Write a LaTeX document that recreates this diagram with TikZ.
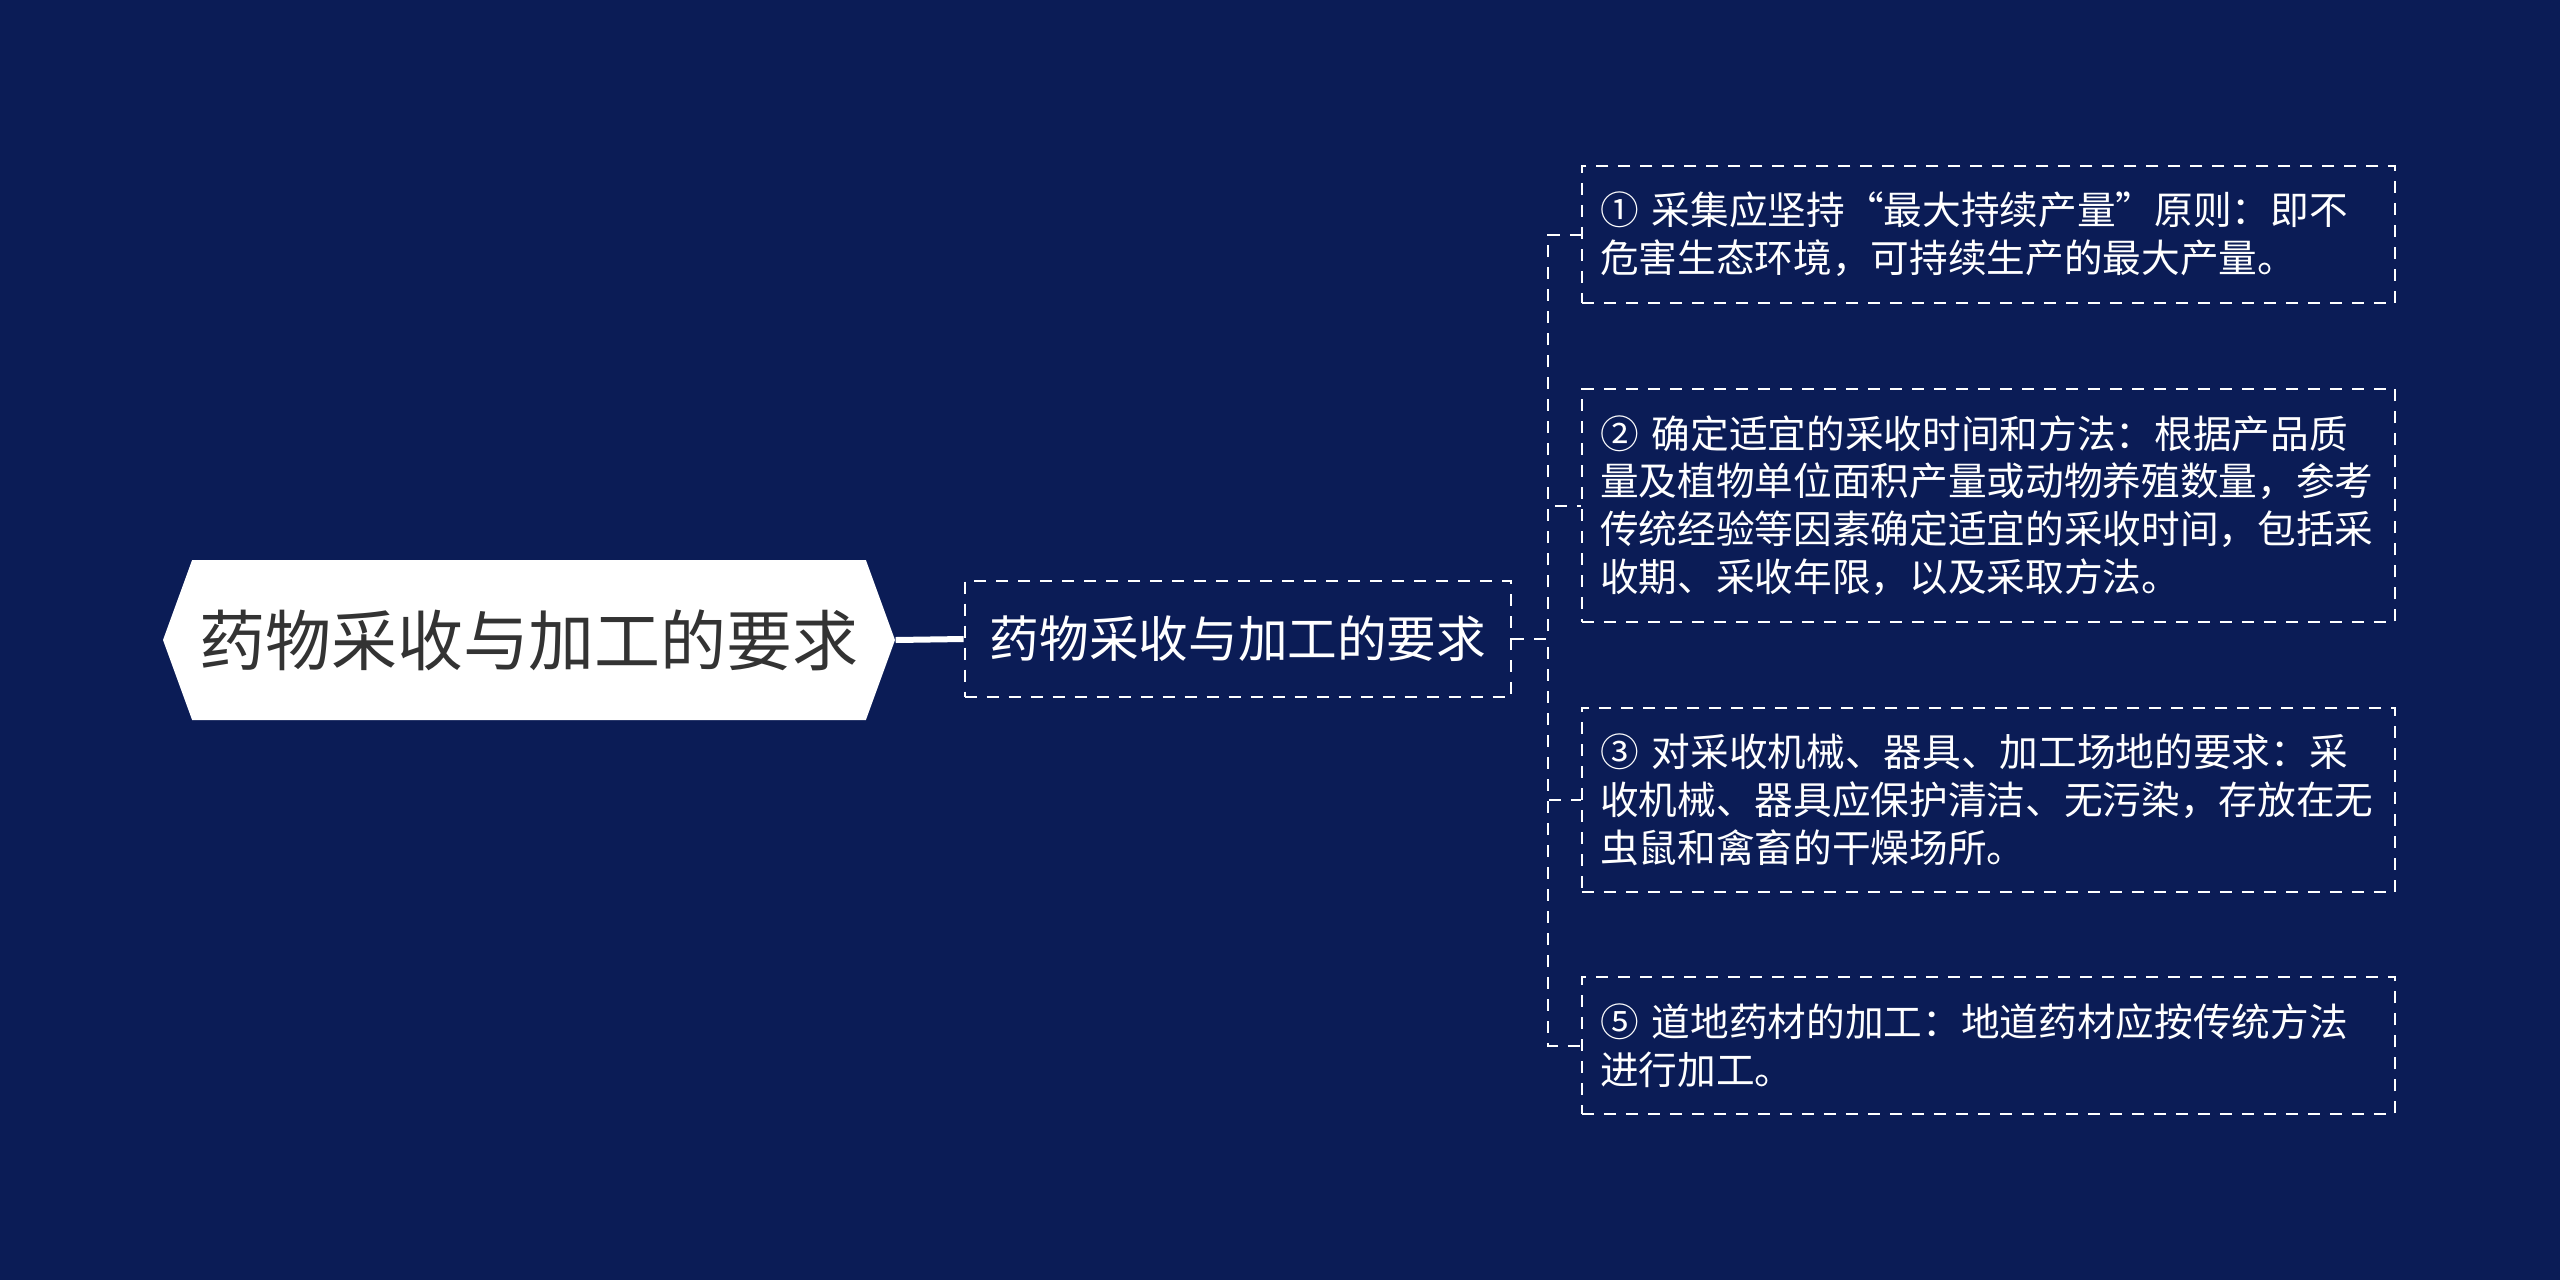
\documentclass[tikz,border=0pt]{standalone}
\usepackage{fontspec}
\setmainfont{Noto Sans CJK SC}
\usepackage{tikz}
\usetikzlibrary{shapes.symbols, positioning}
\definecolor{navybg}{RGB}{11,28,86}
\definecolor{rootgray}{RGB}{51,51,51}
\tikzstyle{rootnode} = [signal, signal to=west and east, signal pointer angle=140, minimum width=219.6pt, minimum height=48pt, inner sep=0pt, text centered, fill=white, text=rootgray, font=\fontsize{19.8}{24}\selectfont]
\tikzstyle{subnode} = [rectangle, minimum width=164pt, minimum height=34.8pt, text centered, draw=white, line width=0.6pt, dash pattern=on 3.6pt off 3pt, text=white, font=\fontsize{14.9}{18}\selectfont]
\tikzstyle{leafnode} = [rectangle, text width=233pt, inner xsep=5.5pt, inner ysep=8pt, align=left, draw=white, line width=0.6pt, dash pattern=on 3.6pt off 3pt, text=white, font=\fontsize{11.6}{14.3}\selectfont]
\tikzstyle{link} = [white, line width=1.8pt]
\tikzstyle{dashlink} = [white, line width=0.6pt, dash pattern=on 3.6pt off 3pt]

\begin{document}
\begin{tikzpicture}[x=0.3pt, y=0.3pt, node distance=212.7pt]

\fill[navybg] (0,0) rectangle (2560,-1280);

\node (root) [rootnode] at (529,-640) {药物采收与加工的要求};

\node (sub) [subnode, right of=root, yshift=0.3pt] {药物采收与加工的要求};

\node (l1) [leafnode] at (1988.5,-234.5) {① 采集应坚持“最大持续产量”原则：即不\\危害生态环境，可持续生产的最大产量。};

\node (l2) [leafnode] at (1988.5,-505.5) {② 确定适宜的采收时间和方法：根据产品质\\量及植物单位面积产量或动物养殖数量，参考\\传统经验等因素确定适宜的采收时间，包括采\\收期、采收年限，以及采取方法。};

\node (l3) [leafnode] at (1988.5,-800) {③ 对采收机械、器具、加工场地的要求：采\\收机械、器具应保护清洁、无污染，存放在无\\虫鼠和禽畜的干燥场所。};

\node (l5) [leafnode] at (1988.5,-1045.5) {⑤ 道地药材的加工：地道药材应按传统方法\\进行加工。};

\coordinate (fork) at ([xshift=10.8pt]sub.east);

\draw [link] (root.east) -- (sub.west);
\draw [dashlink] (sub.east) -- (fork) |- (l1.west);
\draw [dashlink] (sub.east) -- (fork) |- (l2.west);
\draw [dashlink] (sub.east) -- (fork) |- (l3.west);
\draw [dashlink] (sub.east) -- (fork) |- (l5.west);
\end{tikzpicture}
\end{document}
